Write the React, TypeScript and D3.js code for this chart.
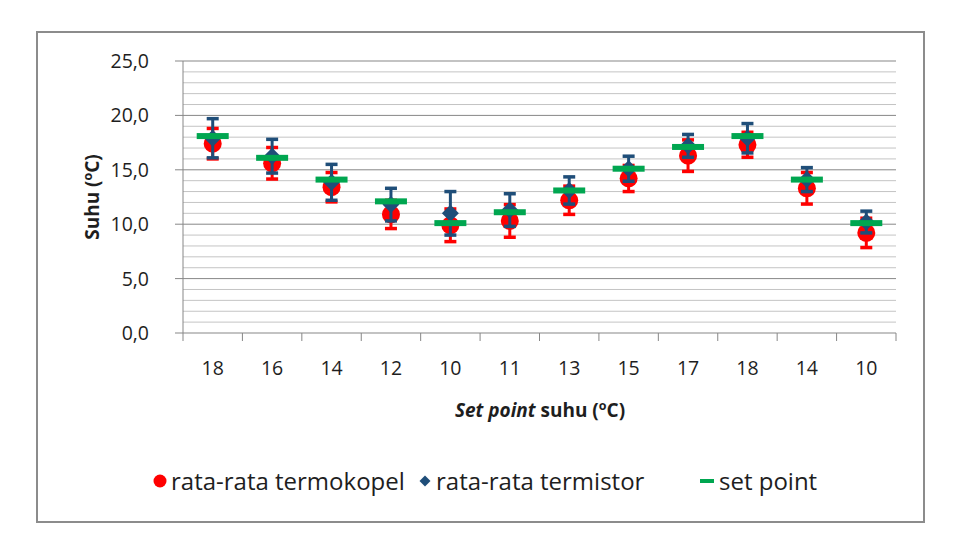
import React from "react";
import { scaleLinear, scaleBand, range } from "d3";

// set point per run, in order of the test sequence
const setPointLabels = ["18", "16", "14", "12", "10", "11", "13", "15", "17", "18", "14", "10"];
const setPoint = [18.1, 16.1, 14.1, 12.1, 10.1, 11.1, 13.1, 15.1, 17.1, 18.1, 14.1, 10.1];

// average thermocouple reading and its spread
const termokopel = [17.4, 15.6, 13.4, 10.9, 9.9, 10.3, 12.2, 14.2, 16.3, 17.3, 13.3, 9.2];
const termokopelErr = [1.4, 1.45, 1.35, 1.3, 1.5, 1.5, 1.3, 1.2, 1.45, 1.15, 1.45, 1.35];

// average thermistor reading and its spread
const termistor = [17.9, 16.25, 13.85, 11.8, 11.0, 11.3, 13.1, 15.1, 17.2, 17.9, 14.1, 10.2];
const termistorErr = [1.8, 1.55, 1.65, 1.5, 2.0, 1.5, 1.25, 1.15, 1.05, 1.35, 1.1, 1.0];

const yTicks = [0, 5, 10, 15, 20, 25];

const RED = "#FF0000";
const BLUE = "#1F4E79";
const GREEN = "#00A650";
const TEXT = "#1E1E1E";
const FONT = "'Open Sans', sans-serif";

const W = 954;
const H = 555;
const plot = { left: 183, right: 896, top: 61, bottom: 333 };

const fmt = (v: number) => v.toFixed(1).replace(".", ",");
// square turned 45 degrees, like the spreadsheet diamond marker
const diamondPath = (r: number) => `M0,${-r}L${r},0L0,${r}L${-r},0Z`;

export default function App() {
  const x = scaleBand<number>()
    .domain(range(setPointLabels.length))
    .range([plot.left, plot.right]);
  const y = scaleLinear().domain([0, 25]).range([plot.bottom, plot.top]);
  const cx = (i: number) => (x(i) as number) + x.bandwidth() / 2;

  const minor = range(0, 26).filter((v) => v % 5 !== 0);

  const errorBar = (vals: number[], errs: number[], color: string, key: string) =>
    vals.map((v, i) => {
      const xc = cx(i);
      const hi = y(v + errs[i]);
      const lo = y(v - errs[i]);
      return (
        <g key={key + i} stroke={color} strokeWidth={3}>
          <line x1={xc} x2={xc} y1={hi} y2={lo} />
          <line x1={xc - 6} x2={xc + 6} y1={hi} y2={hi} strokeWidth={3.5} />
          <line x1={xc - 6} x2={xc + 6} y1={lo} y2={lo} strokeWidth={3.5} />
        </g>
      );
    });

  return (
    <svg
      width={W}
      height={H}
      style={{ position: "absolute", left: 0, top: 0, background: "#fff" }}
      fontFamily={FONT}
    >
      <rect x={37} y={32} width={887} height={490} fill="#fff" stroke="#8C8C8C" strokeWidth={2} />

      {/* gridlines */}
      {minor.map((v) => (
        <line key={"m" + v} x1={plot.left} x2={plot.right} y1={y(v)} y2={y(v)} stroke="#C4C4C4" strokeWidth={1} />
      ))}
      {yTicks.map((v) => (
        <line key={"g" + v} x1={plot.left - 8} x2={plot.right} y1={y(v)} y2={y(v)} stroke="#878787" strokeWidth={1} />
      ))}

      {/* axes */}
      <line x1={plot.left} x2={plot.left} y1={plot.top} y2={plot.bottom} stroke="#878787" />
      {range(setPointLabels.length + 1).map((i) => {
        const xx = i < setPointLabels.length ? (x(i) as number) : plot.right;
        return <line key={"t" + i} x1={xx} x2={xx} y1={plot.bottom} y2={plot.bottom + 8} stroke="#878787" />;
      })}

      {yTicks.map((v) => (
        <text key={"yl" + v} x={149} y={y(v)} dy="0.36em" textAnchor="end" fontSize={19.5} fill={TEXT}>
          {fmt(v)}
        </text>
      ))}
      {setPointLabels.map((d, i) => (
        <text key={"xl" + i} x={cx(i)} y={368} dy="0.36em" textAnchor="middle" fontSize={19.5} fill={TEXT}>
          {d}
        </text>
      ))}

      {/* axis titles */}
      <text
        transform={`translate(99,${(plot.top + plot.bottom) / 2}) rotate(-90)`}
        textAnchor="middle"
        fontSize={19}
        fontWeight="bold"
        fill={TEXT}
      >
        Suhu (<tspan fontSize={12.5} dy={-7}>o</tspan>
        <tspan dy={7}>C)</tspan>
      </text>
      <text x={540} y={417} textAnchor="middle" fontSize={19} fontWeight="bold" fill={TEXT}>
        <tspan fontStyle="italic">Set point</tspan> suhu (<tspan fontSize={12.5} dy={-7}>o</tspan>
        <tspan dy={7}>C)</tspan>
      </text>

      {/* series */}
      {errorBar(termokopel, termokopelErr, RED, "re")}
      {termokopel.map((v, i) => (
        <circle key={"c" + i} cx={cx(i)} cy={y(v)} r={9} fill={RED} />
      ))}
      {errorBar(termistor, termistorErr, BLUE, "be")}
      {termistor.map((v, i) => (
        <path key={"d" + i} d={diamondPath(8.5)} transform={`translate(${cx(i)},${y(v)})`} fill={BLUE} />
      ))}
      {setPoint.map((v, i) => (
        <rect key={"s" + i} x={cx(i) - 16} y={y(v) - 3} width={32} height={6} fill={GREEN} />
      ))}

      {/* legend */}
      <circle cx={160} cy={481} r={6.5} fill={RED} />
      <text x={171} y={481} dy="0.36em" fontSize={24} fill={TEXT}>
        rata-rata termokopel
      </text>
      <path d={diamondPath(5.5)} transform="translate(425,481)" fill={BLUE} />
      <text x={436} y={481} dy="0.36em" fontSize={24} fill={TEXT}>
        rata-rata termistor
      </text>
      <rect x={700} y={479} width={14} height={4} fill={GREEN} />
      <text x={719} y={481} dy="0.36em" fontSize={24} fill={TEXT}>
        set point
      </text>
    </svg>
  );
}
